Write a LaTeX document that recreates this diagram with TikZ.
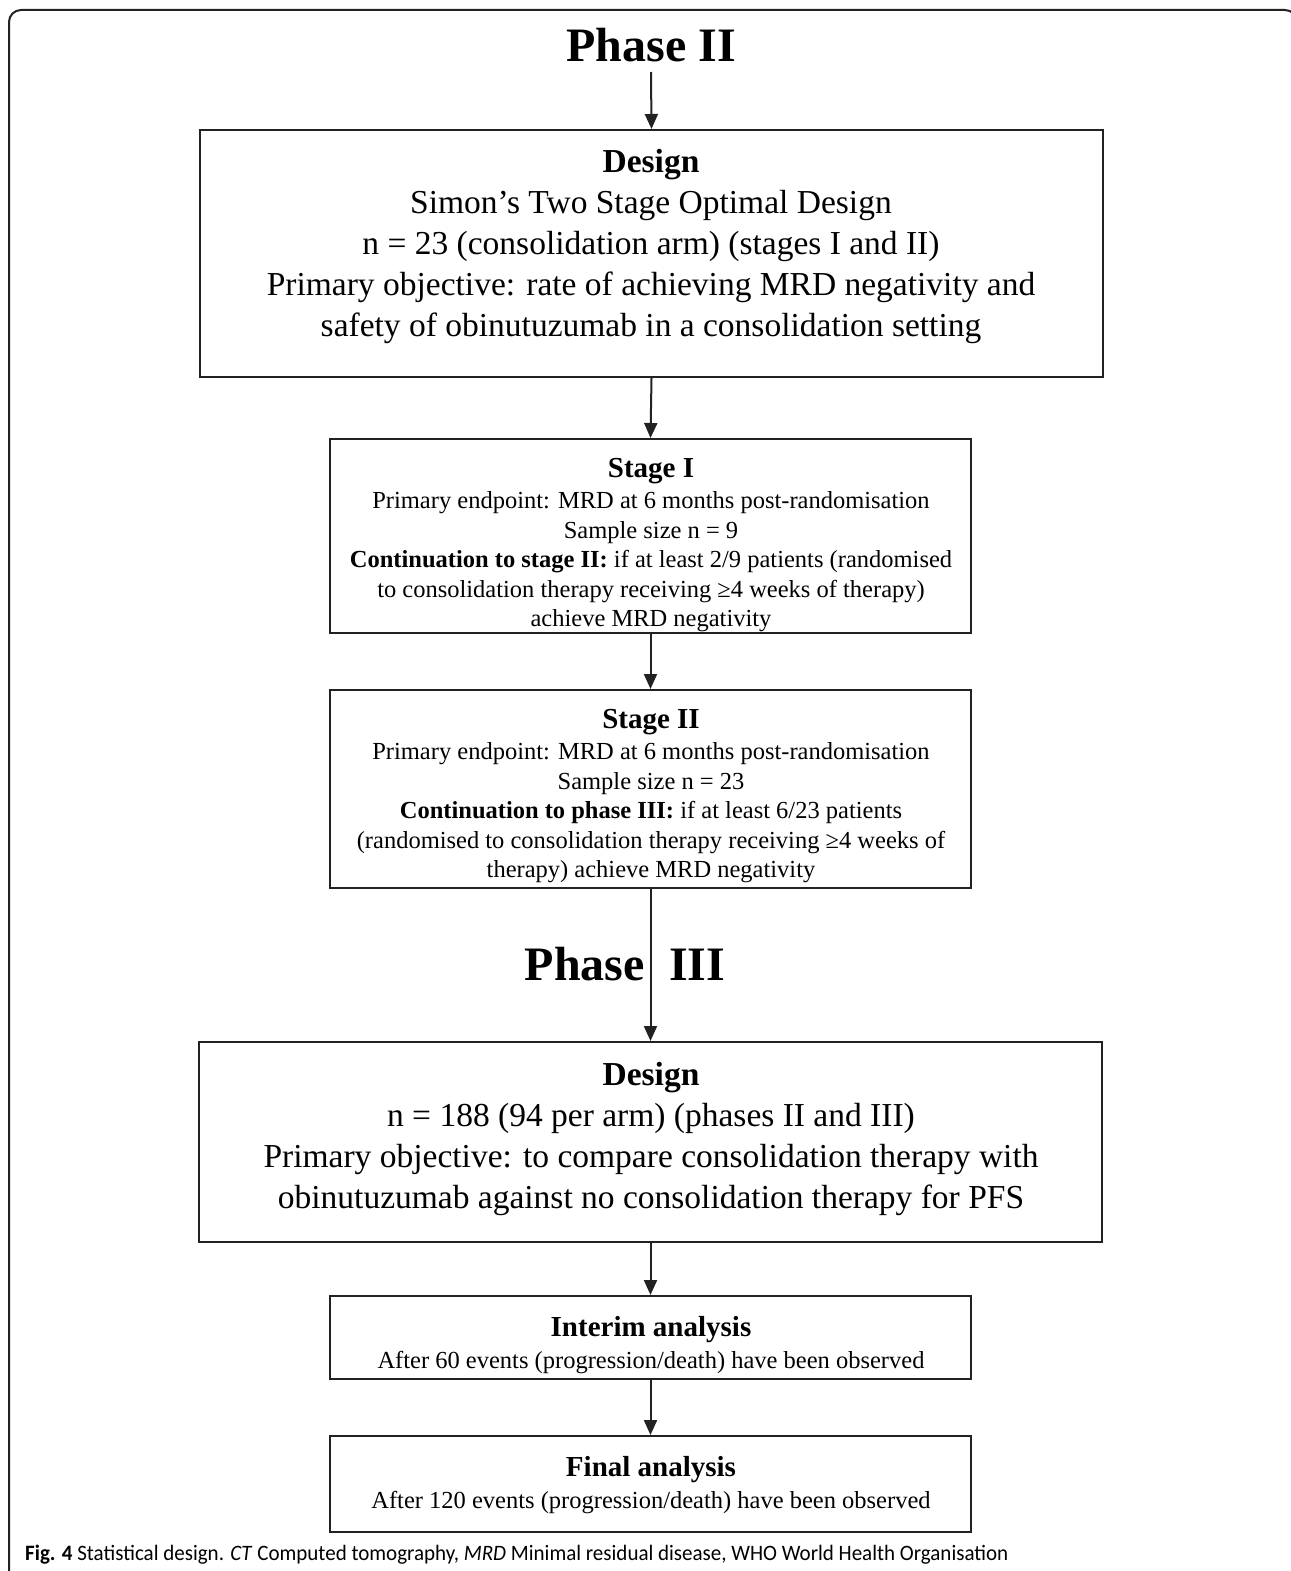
\documentclass[tikz,border=0pt]{standalone}
\usepackage{fontspec}
\setmainfont{Liberation Serif}
\newfontfamily\capfont{Carlito}
\usetikzlibrary{arrows.meta}
\definecolor{ln}{HTML}{222222}
\tikzset{
  box/.style={draw=ln, line width=2pt, inner sep=0pt},
  arr/.style={draw=ln, line width=2pt, -{Triangle[length=15pt,width=13pt]}},
  big/.style={font=\fontsize{48}{50}\selectfont\bfseries, inner sep=0pt},
  dtxt/.style={align=center, inner sep=0pt, font=\fontsize{33.5}{41}\selectfont},
  stxt/.style={align=center, inner sep=0pt, font=\fontsize{24.5}{29.5}\selectfont},
}
\begin{document}
\begin{tikzpicture}[x=1pt,y=-1pt]
\useasboundingbox (0,0) rectangle (1290,1571);
\fill[white] (0,0) rectangle (1290,1571);
% outer frame
\draw[ln, line width=2pt, rounded corners=12pt] (9,1575) -- (9,10) -- (1297,10) -- (1297,40);

% Phase II title
\node[big] (p2) at (651,45) {Phase II};
\coordinate (p2b) at (651,72);

% Design box (phase II)
\node[box, minimum width=903pt, minimum height=247pt] (d2) at (651.5,253.5) {};
\node[dtxt] (d2t) at (651,246) {\textbf{Design}\\Simon’s Two Stage Optimal Design\\n = 23 (consolidation arm) (stages I and II)\\Primary objective: rate of achieving MRD negativity and\\safety of obinutuzumab in a consolidation setting};

% Stage I
\node[box, minimum width=641pt, minimum height=194pt] (s1) at (650.5,536) {};
\node[stxt] (s1t) at (651,545) {{\fontsize{29}{29.5}\selectfont\bfseries Stage I}\\[2pt]Primary endpoint: MRD at 6 months post-randomisation\\Sample size n = 9\\\textbf{Continuation to stage II:} if at least 2/9 patients (randomised\\to consolidation therapy receiving ≥4 weeks of therapy)\\achieve MRD negativity};

% Stage II
\node[box, minimum width=641pt, minimum height=198pt] (s2) at (650.5,789) {};
\node[stxt] (s2t) at (651,796) {{\fontsize{29}{29.5}\selectfont\bfseries Stage II}\\[2pt]Primary endpoint: MRD at 6 months post-randomisation\\Sample size n = 23\\\textbf{Continuation to phase III:} if at least 6/23 patients\\(randomised to consolidation therapy receiving ≥4 weeks of\\therapy) achieve MRD negativity};

% Phase III title
\node[big, anchor=base east] (p3a) at (645,980) {Phase};
\node[big, anchor=base west] (p3b) at (669,980) {III};

% Design box (phase III)
\node[box, minimum width=903pt, minimum height=200pt] (d3) at (650.5,1142) {};
\node[dtxt] (d3t) at (651,1139) {\textbf{Design}\\n = 188 (94 per arm) (phases II and III)\\Primary objective: to compare consolidation therapy with\\obinutuzumab against no consolidation therapy for PFS};

% Interim analysis
\node[box, minimum width=641pt, minimum height=83pt] (ia) at (650.5,1337.5) {};
\node[stxt] (iat) at (651,1345) {{\fontsize{29}{29.5}\selectfont\bfseries Interim analysis}\\[2pt]After 60 events (progression/death) have been observed};

% Final analysis
\node[box, minimum width=641pt, minimum height=96pt] (fa) at (650.5,1484) {};
\node[stxt] (fat) at (651,1485) {{\fontsize{29}{29.5}\selectfont\bfseries Final analysis}\\[2pt]After 120 events (progression/death) have been observed};

% connectors
\draw[arr] (p2b) -- (d2.north);
\draw[arr] (d2.south) -- (s1.north);
\draw[arr] (s1.south) -- (s2.north);
\draw[arr] (s2.south) -- (d3.north);
\draw[arr] (d3.south) -- (ia.north);
\draw[arr] (ia.south) -- (fa.north);

% caption
\node[anchor=base west, inner sep=0pt, font=\capfont\fontsize{22}{24}\selectfont, text=black] (cap) at (25,1560) {\scalebox{0.955}[1]{\textbf{Fig. 4} Statistical design. \textit{CT} Computed tomography, \textit{MRD} Minimal residual disease, WHO World Health Organisation}};
\end{tikzpicture}
\end{document}
